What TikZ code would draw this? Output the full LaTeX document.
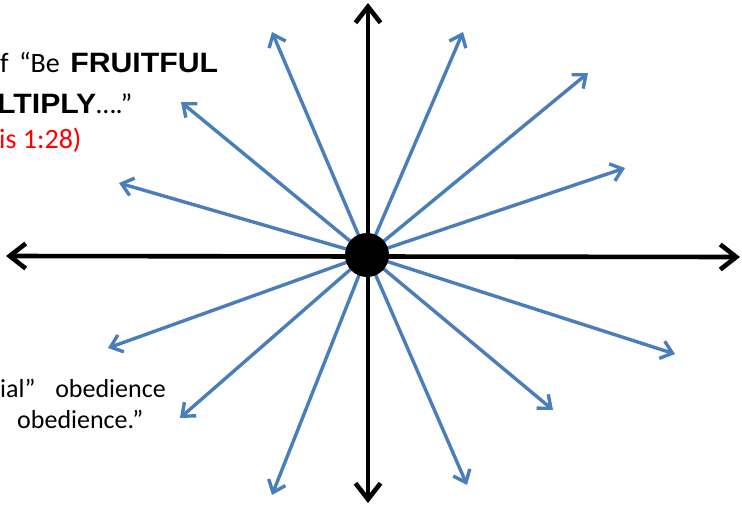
\documentclass[tikz,border=0pt]{standalone}
\usepackage{fontspec}
\setmainfont{Carlito}
\newfontfamily\heavyfont[FakeStretch=1.08]{Liberation Sans}
\usepackage{tikz}
\usetikzlibrary{arrows.meta}
\usepackage{xcolor}
\definecolor{rayblue}{HTML}{4A7EBB}
\definecolor{verse}{HTML}{FF0000}

\begin{document}
\begin{tikzpicture}[
  x=1pt, y=-1pt,
  axis/.style={line width=4.6pt,
               {Straight Barb[length=16pt,width=25pt]}-{Straight Barb[length=16pt,width=25pt]}},
  ray/.style={draw=rayblue, line width=3.4pt, -{Straight Barb[length=11pt,width=18pt]}},
  hub/.style={circle, fill=black, inner sep=0pt, minimum size=44pt},
  quote/.style={anchor=base west, inner sep=0pt, font=\fontsize{28}{32}\selectfont},
  small/.style={quote, font=\fontsize{26}{30}\selectfont}
]
  \useasboundingbox (0,0) rectangle (742,507);

  % Centre
  \coordinate (o) at (367,255);

  % Axes
  \coordinate (west) at (6,256);
  \coordinate (east) at (740,257);
  \coordinate (north) at (368,3);
  \coordinate (south) at (368,503);
  \draw[axis] (west) -- (east);
  \draw[axis] (north) -- (south);

  % Rays
  \foreach \i/\x/\y in {1/272/32, 2/463/32, 3/588/73, 4/625/168,
                        5/675/354, 6/553/410, 7/467/485, 8/272/495,
                        9/180/418, 10/108/348, 11/119/183, 12/181/102}{
    \coordinate (r\i) at (\x,\y);
    \draw[ray] (o) -- (r\i);
  }

  \node[hub] (hub) at (o) {};

  % Text
  \node[quote] (l1) at (0,72) {f\hspace{4pt} “Be\hspace{4pt} {\heavyfont\bfseries FRUITFUL}};
  \node[quote] (l2) at (-3,113) {{\heavyfont\bfseries LTIPLY}….”};
  \node[quote, text=verse] (l3) at (-1,148) {is 1:28)};
  \node[small] (l4) at (0,397) {ial”\hspace{14pt} obedience};
  \node[small] (l5) at (17,428) {obedience.”};
\end{tikzpicture}
\end{document}
